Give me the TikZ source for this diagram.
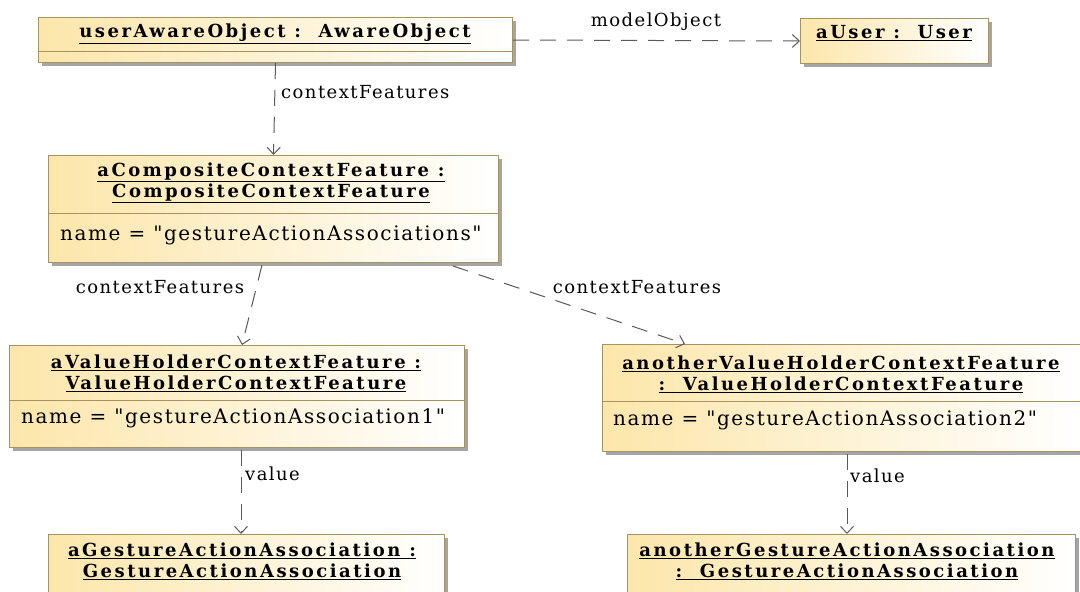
\documentclass[tikz,border=0pt]{standalone}
\usepackage{fontspec}
\setmainfont{DejaVu Serif}
\newfontfamily\titlefont[LetterSpace=14]{DejaVu Serif}
\newfontfamily\attrfont[LetterSpace=8]{DejaVu Serif}
\usetikzlibrary{shadows,arrows.meta,calc}
\definecolor{boxborder}{RGB}{165,148,98}
\definecolor{boxfill}{RGB}{252,230,170}
\definecolor{shadowgray}{RGB}{165,165,165}
\definecolor{linegray}{RGB}{90,90,90}
\tikzset{
  objbox/.style={rectangle, draw=boxborder, line width=1pt, left color=boxfill, right color=white,
    drop shadow={shadow xshift=3pt, shadow yshift=-3pt, fill=shadowgray, opacity=1},
    anchor=north west, inner sep=0pt},
  sepline/.style={draw=boxborder, line width=1pt},
  title/.style={inner sep=0pt, align=center, font=\titlefont\bfseries\fontsize{18}{21}\selectfont},
  attr/.style={inner sep=0pt, anchor=west, font=\attrfont\fontsize{20}{21}\selectfont},
  lbl/.style={inner sep=0pt, font=\attrfont\fontsize{18}{21}\selectfont},
  conn/.style={draw=linegray, line width=1pt, dash pattern=on 16pt off 11pt,
    -{Straight Barb[length=7pt,width=13pt]}}
}
\begin{document}
\begin{tikzpicture}[x=1pt,y=-1pt]
\useasboundingbox (0,0) rectangle (1080,592);
% boxes
\node[objbox, minimum width=474pt, minimum height=45pt] (uao) at (38,17) {};
\node[objbox, minimum width=188pt, minimum height=45pt] (usr) at (800,18) {};
\node[objbox, minimum width=450pt, minimum height=107pt] (comp) at (48,155) {};
\node[objbox, minimum width=455pt, minimum height=102pt] (avh) at (9,345) {};
\node[objbox, minimum width=480pt, minimum height=107pt] (anv) at (602,344) {};
\node[objbox, minimum width=396pt, minimum height=80pt] (ages) at (48,534) {};
\node[objbox, minimum width=448pt, minimum height=80pt] (anges) at (627,534) {};
% separators
\draw[sepline] (uao.west |- 0,51) -- (uao.east |- 0,51);
\draw[sepline] (comp.west |- 0,213) -- (comp.east |- 0,213);
\draw[sepline] (avh.west |- 0,400) -- (avh.east |- 0,400);
\draw[sepline] (anv.west |- 0,401) -- (anv.east |- 0,401);
% titles
\node[title] (uaoT) at (275,34) {\underline{userAwareObject :\ \ AwareObject}};
\node[title] (usrT) at (894,33) {\underline{aUser :\ \ User}};
\node[title] (compT) at (271,183) {\underline{aCompositeContextFeature :}\\\underline{CompositeContextFeature}};
\node[title] (avhT) at (236,373) {\underline{aValueHolderContextFeature :}\\\underline{ValueHolderContextFeature}};
\node[title] (anvT) at (841,374) {\underline{anotherValueHolderContextFeature}\\\underline{:\ \ ValueHolderContextFeature}};
\node[title] (agesT) at (242,561) {\underline{aGestureActionAssociation :}\\\underline{GestureActionAssociation}};
\node[title] (angesT) at (847,561) {\underline{anotherGestureActionAssociation}\\\underline{:\ \ GestureActionAssociation}};
% attributes
\node[attr] (compA) at (60,235) {name = "gestureActionAssociations"};
\node[attr] (avhA) at (21,418) {name = "gestureActionAssociation1"};
\node[attr] (anvA) at (613,420) {name = "gestureActionAssociation2"};
% connectors
\draw[conn] (uao.east) -- (usr.west);
\draw[conn] (uao.south) -- (comp.north);
\draw[conn] ($(comp.south west)+(214,2)$) -- ($(avh.north west)+(233,0)$);
\draw[conn] ($(comp.south west)+(405,3)$) -- ($(anv.north west)+(83,0)$);
\draw[conn] ($(avh.south west)+(232,2)$) -- ($(ages.north west)+(193,0)$);
\draw[conn] ($(anv.south west)+(245,2)$) -- ($(anges.north west)+(220,0)$);
% labels
\node[lbl] (l1) at (656,22) {modelObject};
\node[lbl, anchor=west] (l2) at (281,92) {contextFeatures};
\node[lbl] (l3) at (160,287) {contextFeatures};
\node[lbl] (l4) at (637,287) {contextFeatures};
\node[lbl, anchor=west] (l5) at (245,474) {value};
\node[lbl, anchor=west] (l6) at (850,476) {value};
\end{tikzpicture}
\end{document}
